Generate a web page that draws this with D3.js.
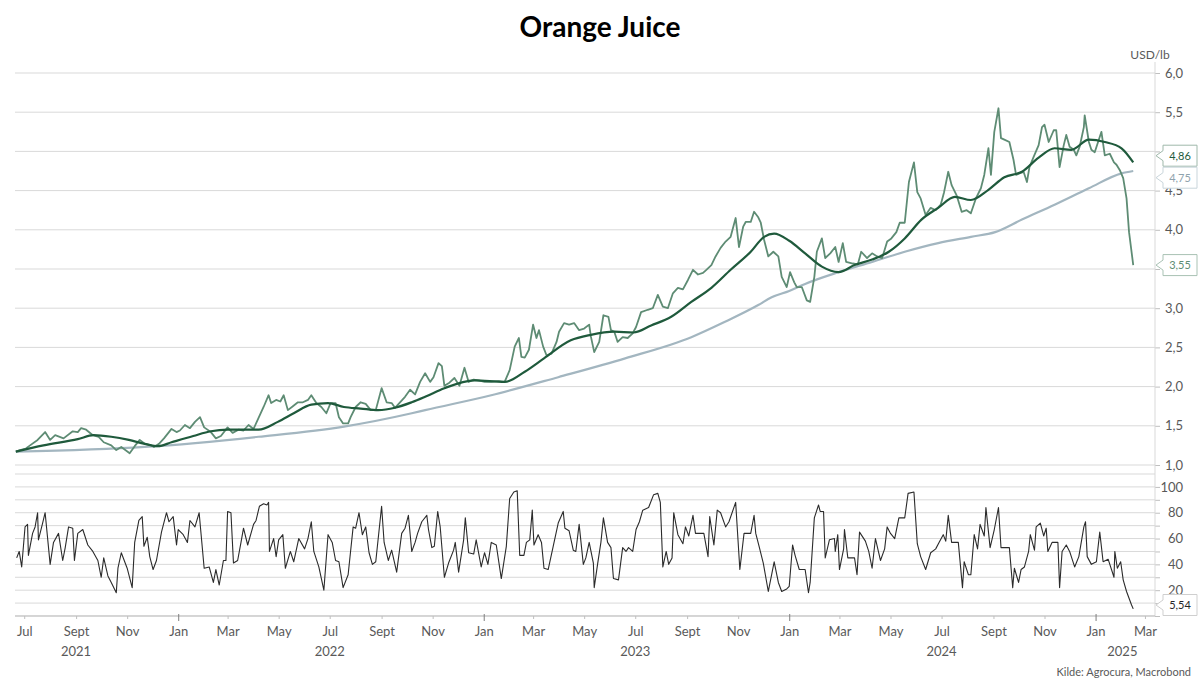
<!DOCTYPE html>
<html><head><meta charset="utf-8">
<script src="https://cdn.jsdelivr.net/npm/d3@7"></script>
<style>body{margin:0;background:#fff}svg{display:block}text{font-family:Lato,"Open Sans",sans-serif}</style>
</head><body><svg id="c" width="1200" height="688"></svg>
<script>
const title = "Orange Juice";
const unitLabel = "USD/lb";
const sourceLabel = "Kilde: Agrocura, Macrobond";
const price = [["2021-06-21",1.17],["2021-06-26",1.19],["2021-07-03",1.21],["2021-07-08",1.25],["2021-07-17",1.32],["2021-07-26",1.42],["2021-08-01",1.32],["2021-08-07",1.38],["2021-08-17",1.34],["2021-08-28",1.43],["2021-09-03",1.42],["2021-09-07",1.47],["2021-09-13",1.45],["2021-09-21",1.38],["2021-09-28",1.36],["2021-10-04",1.29],["2021-10-13",1.25],["2021-10-19",1.19],["2021-10-25",1.23],["2021-11-04",1.15],["2021-11-10",1.24],["2021-11-16",1.32],["2021-11-22",1.27],["2021-11-30",1.25],["2021-12-03",1.23],["2021-12-09",1.27],["2021-12-15",1.34],["2021-12-24",1.46],["2021-12-30",1.42],["2022-01-03",1.44],["2022-01-09",1.51],["2022-01-15",1.47],["2022-01-21",1.55],["2022-01-27",1.61],["2022-02-01",1.48],["2022-02-09",1.42],["2022-02-15",1.34],["2022-02-21",1.37],["2022-03-01",1.48],["2022-03-07",1.41],["2022-03-14",1.45],["2022-03-20",1.44],["2022-03-26",1.51],["2022-04-01",1.46],["2022-04-07",1.60],["2022-04-13",1.74],["2022-04-19",1.89],["2022-04-22",1.79],["2022-04-28",1.83],["2022-05-03",1.81],["2022-05-07",1.89],["2022-05-12",1.70],["2022-05-18",1.75],["2022-05-24",1.80],["2022-05-30",1.80],["2022-06-05",1.83],["2022-06-09",1.89],["2022-06-15",1.79],["2022-06-21",1.74],["2022-06-27",1.66],["2022-07-02",1.79],["2022-07-08",1.79],["2022-07-12",1.61],["2022-07-17",1.53],["2022-07-23",1.53],["2022-07-26",1.61],["2022-08-01",1.74],["2022-08-07",1.80],["2022-08-13",1.78],["2022-08-19",1.70],["2022-08-25",1.70],["2022-09-01",1.98],["2022-09-07",1.80],["2022-09-13",1.79],["2022-09-17",1.73],["2022-09-23",1.80],["2022-09-29",1.87],["2022-10-05",1.96],["2022-10-11",1.90],["2022-10-17",2.06],["2022-10-23",2.17],["2022-10-29",2.06],["2022-11-02",2.12],["2022-11-08",2.30],["2022-11-12",2.26],["2022-11-15",2.01],["2022-11-21",2.05],["2022-11-27",2.11],["2022-12-03",2.01],["2022-12-09",2.24],["2022-12-14",2.06],["2022-12-20",2.09],["2022-12-26",2.08],["2023-01-02",2.06],["2023-01-10",2.06],["2023-01-19",2.07],["2023-01-26",2.06],["2023-02-01",2.21],["2023-02-07",2.51],["2023-02-12",2.62],["2023-02-15",2.38],["2023-02-19",2.37],["2023-02-24",2.47],["2023-03-01",2.79],["2023-03-05",2.62],["2023-03-08",2.72],["2023-03-13",2.51],["2023-03-17",2.40],["2023-03-23",2.42],["2023-03-29",2.57],["2023-04-01",2.70],["2023-04-07",2.81],["2023-04-13",2.79],["2023-04-19",2.81],["2023-04-25",2.72],["2023-05-01",2.74],["2023-05-07",2.79],["2023-05-09",2.64],["2023-05-13",2.44],["2023-05-19",2.57],["2023-05-24",2.91],["2023-05-30",2.89],["2023-06-02",2.72],["2023-06-06",2.70],["2023-06-10",2.57],["2023-06-16",2.63],["2023-06-22",2.62],["2023-06-28",2.68],["2023-07-02",2.76],["2023-07-08",2.95],["2023-07-16",2.98],["2023-07-22",3.00],["2023-07-28",3.17],["2023-08-03",3.02],["2023-08-09",3.00],["2023-08-15",3.19],["2023-08-21",3.26],["2023-08-27",3.24],["2023-09-02",3.36],["2023-09-08",3.49],["2023-09-14",3.43],["2023-09-20",3.45],["2023-09-24",3.49],["2023-09-30",3.55],["2023-10-05",3.66],["2023-10-11",3.77],["2023-10-17",3.85],["2023-10-23",3.91],["2023-10-29",4.15],["2023-11-02",3.78],["2023-11-07",4.04],["2023-11-10",4.10],["2023-11-16",4.10],["2023-11-20",4.23],["2023-11-25",4.16],["2023-11-28",4.09],["2023-12-02",3.87],["2023-12-07",3.66],["2023-12-13",3.72],["2023-12-19",3.66],["2023-12-23",3.40],["2023-12-29",3.27],["2024-01-02",3.46],["2024-01-07",3.33],["2024-01-10",3.27],["2024-01-16",3.27],["2024-01-22",3.10],["2024-01-26",3.08],["2024-01-31",3.40],["2024-02-03",3.72],["2024-02-09",3.89],["2024-02-13",3.64],["2024-02-19",3.70],["2024-02-25",3.78],["2024-02-29",3.59],["2024-03-05",3.83],["2024-03-09",3.59],["2024-03-17",3.57],["2024-03-23",3.56],["2024-03-27",3.72],["2024-04-03",3.64],["2024-04-09",3.70],["2024-04-15",3.66],["2024-04-21",3.64],["2024-04-27",3.85],["2024-05-02",3.89],["2024-05-08",3.97],["2024-05-12",4.09],["2024-05-18",4.09],["2024-05-23",4.61],["2024-05-29",4.86],["2024-06-02",4.48],["2024-06-06",4.40],["2024-06-12",4.19],["2024-06-18",4.28],["2024-06-24",4.25],["2024-06-30",4.32],["2024-07-04",4.48],["2024-07-09",4.74],["2024-07-13",4.57],["2024-07-19",4.44],["2024-07-25",4.23],["2024-07-31",4.25],["2024-08-05",4.21],["2024-08-11",4.40],["2024-08-17",4.53],["2024-08-21",4.70],["2024-08-26",5.04],["2024-08-29",4.70],["2024-09-02",5.25],["2024-09-07",5.55],["2024-09-10",5.17],["2024-09-14",5.15],["2024-09-20",5.12],["2024-09-25",4.89],["2024-09-28",4.70],["2024-10-02",4.72],["2024-10-07",4.74],["2024-10-11",4.61],["2024-10-14",4.80],["2024-10-19",4.93],["2024-10-25",5.08],["2024-10-29",5.31],["2024-11-01",5.34],["2024-11-06",5.12],["2024-11-12",5.27],["2024-11-15",5.27],["2024-11-19",4.80],["2024-11-24",5.08],["2024-11-27",5.21],["2024-12-01",5.06],["2024-12-06",5.02],["2024-12-09",4.95],["2024-12-13",5.06],["2024-12-18",5.31],["2024-12-19",5.46],["2024-12-24",5.12],["2024-12-27",5.02],["2024-12-31",4.99],["2025-01-04",5.12],["2025-01-08",5.25],["2025-01-12",4.95],["2025-01-18",4.97],["2025-01-23",4.86],["2025-01-26",4.83],["2025-01-30",4.76],["2025-02-03",4.66],["2025-02-07",4.40],["2025-02-10",3.97],["2025-02-15",3.55]];
const ma50 = [["2021-06-21",1.17],["2021-07-24",1.25],["2021-09-03",1.33],["2021-09-22",1.38],["2021-10-13",1.36],["2021-11-03",1.32],["2021-11-22",1.27],["2021-12-08",1.24],["2021-12-24",1.29],["2022-01-19",1.37],["2022-02-09",1.43],["2022-03-01",1.45],["2022-04-07",1.45],["2022-04-30",1.55],["2022-05-19",1.66],["2022-06-09",1.77],["2022-06-29",1.79],["2022-07-18",1.74],["2022-08-07",1.72],["2022-08-28",1.70],["2022-09-17",1.73],["2022-10-07",1.80],["2022-10-23",1.87],["2022-11-15",1.98],["2022-12-21",2.08],["2023-01-26",2.06],["2023-02-19",2.19],["2023-03-14",2.36],["2023-04-15",2.59],["2023-05-09",2.66],["2023-06-06",2.70],["2023-06-29",2.69],["2023-07-20",2.78],["2023-08-13",2.89],["2023-09-06",3.08],["2023-09-30",3.26],["2023-10-23",3.49],["2023-11-16",3.72],["2023-12-02",3.91],["2023-12-14",3.95],["2024-01-01",3.86],["2024-01-20",3.70],["2024-02-09",3.53],["2024-02-29",3.46],["2024-03-19",3.55],["2024-04-09",3.62],["2024-04-29",3.72],["2024-05-18",3.89],["2024-06-07",4.13],["2024-06-27",4.28],["2024-07-17",4.42],["2024-08-05",4.38],["2024-08-26",4.51],["2024-09-14",4.67],["2024-10-05",4.74],["2024-10-25",4.92],["2024-11-13",5.04],["2024-12-03",5.02],["2024-12-24",5.15],["2025-01-12",5.12],["2025-02-01",5.04],["2025-02-15",4.86]];
const ma200 = [["2021-06-21",1.17],["2021-11-22",1.23],["2022-04-07",1.36],["2022-07-18",1.49],["2022-10-07",1.66],["2022-10-23",1.70],["2023-01-10",1.89],["2023-03-31",2.12],["2023-06-19",2.36],["2023-09-06",2.63],["2023-10-15",2.82],["2023-11-25",3.04],["2023-12-11",3.14],["2024-01-01",3.22],["2024-01-20",3.31],["2024-02-29",3.46],["2024-04-09",3.59],["2024-05-18",3.72],["2024-06-27",3.83],["2024-08-05",3.91],["2024-09-03",3.97],["2024-10-05",4.13],["2024-11-13",4.32],["2024-12-24",4.53],["2025-02-01",4.72],["2025-02-15",4.75]];
const rsi = [["2021-06-22",45],["2021-06-25",50],["2021-06-28",38],["2021-07-02",69],["2021-07-05",71],["2021-07-06",47],["2021-07-11",64],["2021-07-14",69],["2021-07-17",80],["2021-07-18",59],["2021-07-23",72],["2021-07-26",80],["2021-08-01",40],["2021-08-05",57],["2021-08-11",64],["2021-08-16",43],["2021-08-19",53],["2021-08-23",69],["2021-08-28",68],["2021-08-30",43],["2021-09-03",64],["2021-09-09",67],["2021-09-15",55],["2021-09-21",50],["2021-09-27",43],["2021-10-01",30],["2021-10-04",45],["2021-10-09",31],["2021-10-13",26],["2021-10-19",18],["2021-10-21",37],["2021-10-25",49],["2021-11-01",37],["2021-11-07",22],["2021-11-10",57],["2021-11-15",74],["2021-11-19",77],["2021-11-21",54],["2021-11-25",61],["2021-11-28",46],["2021-12-02",36],["2021-12-06",43],["2021-12-12",65],["2021-12-18",80],["2021-12-21",73],["2021-12-26",77],["2021-12-30",55],["2022-01-01",67],["2022-01-07",63],["2022-01-12",57],["2022-01-15",74],["2022-01-21",69],["2022-01-26",80],["2022-02-01",37],["2022-02-07",38],["2022-02-12",26],["2022-02-15",36],["2022-02-19",24],["2022-02-24",43],["2022-02-27",43],["2022-03-01",81],["2022-03-05",80],["2022-03-08",41],["2022-03-13",43],["2022-03-17",57],["2022-03-20",68],["2022-03-25",55],["2022-04-01",71],["2022-04-04",74],["2022-04-08",85],["2022-04-13",87],["2022-04-17",86],["2022-04-19",88],["2022-04-20",50],["2022-04-25",60],["2022-04-28",46],["2022-05-01",59],["2022-05-06",63],["2022-05-09",37],["2022-05-15",50],["2022-05-19",42],["2022-05-25",60],["2022-06-01",52],["2022-06-05",60],["2022-06-09",73],["2022-06-12",50],["2022-06-18",38],["2022-06-24",20],["2022-06-29",63],["2022-07-04",57],["2022-07-08",43],["2022-07-12",42],["2022-07-17",22],["2022-07-23",32],["2022-07-29",69],["2022-08-01",68],["2022-08-05",80],["2022-08-09",63],["2022-08-13",69],["2022-08-17",49],["2022-08-21",40],["2022-08-25",42],["2022-09-01",85],["2022-09-04",57],["2022-09-09",43],["2022-09-13",51],["2022-09-19",34],["2022-09-25",64],["2022-09-29",68],["2022-10-03",78],["2022-10-07",50],["2022-10-11",57],["2022-10-14",64],["2022-10-19",73],["2022-10-25",78],["2022-10-27",67],["2022-10-31",53],["2022-11-03",54],["2022-11-07",81],["2022-11-10",69],["2022-11-15",30],["2022-11-20",41],["2022-11-26",51],["2022-11-28",57],["2022-12-02",34],["2022-12-08",59],["2022-12-10",76],["2022-12-14",49],["2022-12-20",48],["2022-12-23",59],["2022-12-29",38],["2023-01-02",49],["2023-01-06",40],["2023-01-10",57],["2023-01-16",55],["2023-01-22",29],["2023-01-28",54],["2023-02-01",91],["2023-02-06",96],["2023-02-10",97],["2023-02-13",47],["2023-02-18",47],["2023-02-21",57],["2023-02-25",59],["2023-02-28",82],["2023-03-02",55],["2023-03-07",63],["2023-03-11",57],["2023-03-14",37],["2023-03-19",36],["2023-03-25",54],["2023-03-31",72],["2023-04-06",81],["2023-04-08",68],["2023-04-13",66],["2023-04-18",51],["2023-04-21",50],["2023-04-25",71],["2023-04-30",40],["2023-05-03",45],["2023-05-07",57],["2023-05-12",41],["2023-05-13",22],["2023-05-17",40],["2023-05-21",57],["2023-05-24",76],["2023-05-29",57],["2023-06-02",53],["2023-06-05",29],["2023-06-11",28],["2023-06-16",53],["2023-06-20",50],["2023-06-23",53],["2023-06-28",50],["2023-07-02",67],["2023-07-06",73],["2023-07-10",82],["2023-07-17",84],["2023-07-23",94],["2023-07-28",95],["2023-07-31",88],["2023-08-03",38],["2023-08-07",50],["2023-08-10",40],["2023-08-14",45],["2023-08-16",80],["2023-08-21",63],["2023-08-27",56],["2023-08-30",69],["2023-09-03",62],["2023-09-08",78],["2023-09-11",64],["2023-09-21",64],["2023-09-26",46],["2023-09-28",77],["2023-10-03",55],["2023-10-07",82],["2023-10-11",80],["2023-10-17",69],["2023-10-21",73],["2023-10-29",88],["2023-11-03",36],["2023-11-08",64],["2023-11-16",64],["2023-11-20",78],["2023-11-22",64],["2023-11-26",54],["2023-12-01",41],["2023-12-07",19],["2023-12-11",32],["2023-12-14",42],["2023-12-19",26],["2023-12-23",19],["2023-12-29",21],["2024-01-01",23],["2024-01-05",55],["2024-01-08",47],["2024-01-13",36],["2024-01-20",36],["2024-01-24",18],["2024-01-26",26],["2024-01-31",76],["2024-02-05",86],["2024-02-07",81],["2024-02-11",81],["2024-02-13",45],["2024-02-18",59],["2024-02-24",60],["2024-02-25",50],["2024-02-28",63],["2024-03-01",36],["2024-03-06",52],["2024-03-07",67],["2024-03-11",45],["2024-03-19",45],["2024-03-22",32],["2024-03-25",65],["2024-04-01",58],["2024-04-05",50],["2024-04-09",37],["2024-04-13",60],["2024-04-19",43],["2024-04-24",52],["2024-04-27",69],["2024-05-01",64],["2024-05-06",60],["2024-05-11",76],["2024-05-18",76],["2024-05-22",95],["2024-05-29",96],["2024-06-02",56],["2024-06-06",46],["2024-06-12",36],["2024-06-18",49],["2024-06-24",52],["2024-06-28",57],["2024-07-03",63],["2024-07-06",58],["2024-07-09",78],["2024-07-13",57],["2024-07-21",57],["2024-07-26",22],["2024-07-28",42],["2024-08-02",32],["2024-08-05",32],["2024-08-09",63],["2024-08-13",52],["2024-08-16",71],["2024-08-21",62],["2024-08-23",84],["2024-08-28",53],["2024-09-02",67],["2024-09-07",84],["2024-09-10",53],["2024-09-20",53],["2024-09-24",22],["2024-09-26",37],["2024-10-01",26],["2024-10-04",36],["2024-10-08",38],["2024-10-13",50],["2024-10-15",63],["2024-10-20",51],["2024-10-22",69],["2024-10-27",72],["2024-10-31",62],["2024-11-03",68],["2024-11-05",50],["2024-11-10",57],["2024-11-17",57],["2024-11-19",22],["2024-11-22",50],["2024-11-27",55],["2024-12-01",50],["2024-12-07",38],["2024-12-12",46],["2024-12-18",69],["2024-12-20",73],["2024-12-22",46],["2024-12-27",40],["2025-01-02",42],["2025-01-06",65],["2025-01-10",42],["2025-01-16",44],["2025-01-23",30],["2025-01-24",50],["2025-01-27",37],["2025-01-31",42],["2025-02-03",28],["2025-02-07",19],["2025-02-13",8.5],["2025-02-15",5.54]];
const priceTicks = [1,1.5,2,2.5,3,3.5,4,4.5,5,5.5,6];
const rsiGrid = [0,10,20,30,40,50,60,70,80,90,100,110];
const rsiTicks = [0,20,40,60,80,100];
const monthNames = ["Jan","Feb","Mar","Apr","May","Jun","Jul","Aug","Sept","Oct","Nov","Dec"];
const yearLabels = [["2021-09-01","2021"],["2022-07-01","2022"],["2023-07-01","2023"],["2024-07-01","2024"],["2025-02-02","2025"]];

const C = {price:"#5e8c74", ma50:"#1f5a3c", ma200:"#a3b6c0", rsi:"#2b2b2b", grid:"#d9d9d9", text:"#595959", axis:"#bfbfbf"};
const parse = d3.timeParse("%Y-%m-%d");
const svg = d3.select("#c");
const x = d3.scaleTime().domain([parse("2021-06-20"), parse("2025-03-13")]).range([15, 1155]);
const yTop = d3.scaleLinear().domain([1, 6]).range([465, 73]);
const yBot = d3.scaleLinear().domain([0, 110]).range([616, 474]);
const fmt = v => d3.format(".1f")(v).replace(".", ",");

// end-value callout positions
const ends = [
  {v: ma50[ma50.length-1][1], stroke: "#9fb8aa", fill: C.ma50},
  {v: ma200[ma200.length-1][1], stroke: "#c9d5db", fill: "#8fa3ad"},
  {v: price[price.length-1][1], stroke: "#a9c2b4", fill: C.price}
].map(d => ({...d, y: yTop(d.v)})).sort((a, b) => a.y - b.y);
for (let i = 1; i < ends.length; i++) {
  if (ends[i].y - ends[i-1].y < 22) {
    const m = (ends[i].y + ends[i-1].y) / 2;
    ends[i-1].y = m - 11; ends[i].y = m + 11;
  }
}
const rEnd = rsi[rsi.length-1][1];
const rsiBoxY = Math.min(yBot(rEnd), 605);
const covered = (yy, boxes, d) => boxes.some(b => Math.abs(b - yy) < d);

// title
svg.append("text").attr("x", 600).attr("y", 37).attr("text-anchor", "middle")
  .attr("font-size", 28).attr("font-weight", 700).attr("fill", "#000").text(title);
svg.append("text").attr("x", 1150).attr("y", 59).attr("text-anchor", "middle")
  .attr("font-size", 12).attr("fill", C.text).text(unitLabel);

// grids
svg.append("g").selectAll("line").data(priceTicks).join("line")
  .attr("x1", 15).attr("x2", 1155).attr("y1", d => yTop(d)).attr("y2", d => yTop(d))
  .attr("stroke", C.grid).attr("stroke-width", 1);
svg.append("g").selectAll("line").data(rsiGrid).join("line")
  .attr("x1", 15).attr("x2", 1155).attr("y1", d => yBot(d)).attr("y2", d => yBot(d))
  .attr("stroke", C.grid).attr("stroke-width", 1);

// right axes
const topBoxes = ends.map(d => d.y);
const ra = svg.append("g").attr("transform", "translate(1155,0)")
  .call(d3.axisRight(yTop).tickValues(priceTicks)
    .tickFormat(d => covered(yTop(d), topBoxes, 9) ? "" : fmt(d)).tickSize(5).tickPadding(4));
const rb = svg.append("g").attr("transform", "translate(1155,0)")
  .call(d3.axisRight(yBot).tickValues(rsiGrid.filter(d => d <= 100))
    .tickFormat(d => rsiTicks.includes(d) && !covered(yBot(d), [rsiBoxY], 13) ? d : "").tickSize(5).tickPadding(4));
[ra, rb].forEach(g => {
  g.select(".domain").remove();
  g.selectAll(".tick line").attr("stroke", C.axis);
  g.selectAll(".tick text").attr("font-size", 13).attr("fill", C.text)
    .attr("text-anchor", "end").attr("x", 28);
});
svg.append("line").attr("x1", 1155).attr("x2", 1155).attr("y1", 62).attr("y2", 616)
  .attr("stroke", C.grid);

// x axis
const ticks = d3.timeMonth.every(2).range(parse("2021-07-01"), parse("2025-03-02"));
const xa = svg.append("g").attr("transform", "translate(0,616)")
  .call(d3.axisBottom(x).tickValues(ticks).tickFormat(d => monthNames[d.getMonth()]).tickSize(3).tickPadding(8));
xa.select(".domain").attr("stroke", C.axis).attr("d", "M15,0H1155");
xa.selectAll(".tick line").attr("y1", d => d.getMonth() === 0 ? -2 : 0)
  .attr("y2", d => d.getMonth() === 0 ? 5 : 3).attr("stroke", d => d.getMonth() === 0 ? "#7f7f7f" : C.axis);
xa.selectAll(".tick text").attr("font-size", 13).attr("fill", C.text);
svg.append("g").selectAll("text").data(yearLabels).join("text")
  .attr("x", d => x(parse(d[0]))).attr("y", 656).attr("text-anchor", "middle")
  .attr("font-size", 13).attr("fill", C.text).text(d => d[1]);

// lines
const lineTop = d3.line().x(d => x(parse(d[0]))).y(d => yTop(d[1]));
const smoothTop = d3.line().x(d => x(parse(d[0]))).y(d => yTop(d[1])).curve(d3.curveMonotoneX);
svg.append("path").datum(ma200).attr("d", smoothTop).attr("fill", "none").attr("stroke", C.ma200).attr("stroke-width", 2.2);
svg.append("path").datum(price).attr("d", lineTop).attr("fill", "none").attr("stroke", C.price).attr("stroke-width", 1.8).attr("stroke-linejoin", "round");
svg.append("path").datum(ma50).attr("d", smoothTop).attr("fill", "none").attr("stroke", C.ma50).attr("stroke-width", 2.2);
const lineBot = d3.line().x(d => x(parse(d[0]))).y(d => yBot(d[1]));
svg.append("path").datum(rsi).attr("d", lineBot).attr("fill", "none").attr("stroke", C.rsi).attr("stroke-width", 1.1).attr("stroke-linejoin", "round");

// callouts
function callout(yc, text, stroke, fill) {
  const g = svg.append("g");
  const L = 1163, R = 1197, h = 10.5;
  g.append("path").attr("d", `M1156,${yc}L${L},${yc-5}V${yc-h}H${R}V${yc+h}H${L}V${yc+5}Z`)
    .attr("fill", "#fff").attr("stroke", stroke).attr("stroke-width", 1);
  g.append("text").attr("x", (L + R) / 2).attr("y", yc + 4).attr("text-anchor", "middle")
    .attr("font-size", 11).attr("fill", fill).text(text);
}
ends.forEach(d => callout(d.y, d3.format(".2f")(d.v).replace(".", ","), d.stroke, d.fill));
callout(rsiBoxY, d3.format(".2f")(rEnd).replace(".", ","), "#cfcfcf", "#262626");

svg.append("text").attr("x", 1191).attr("y", 676).attr("text-anchor", "end")
  .attr("font-size", 11).attr("fill", C.text).text(sourceLabel);
</script></body></html>
